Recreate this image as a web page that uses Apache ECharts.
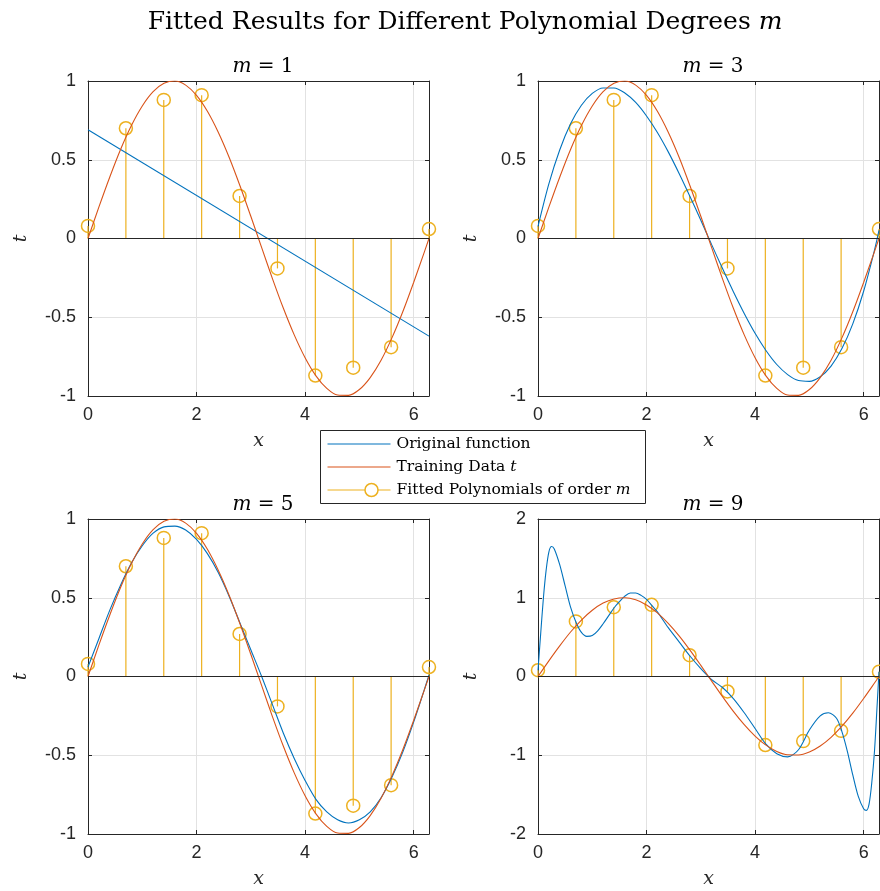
<!DOCTYPE html>
<html>
<head>
<meta charset="utf-8">
<script src="https://cdn.jsdelivr.net/npm/echarts@6/dist/echarts.min.js"></script>
<style>
  html, body { margin: 0; padding: 0; background: #fff; }
  #chart { width: 880px; height: 891px; }
</style>
</head>
<body>
<div id="chart"></div>
<script>
// training points (x, t)
var xData = [0, 0.698, 1.396, 2.094, 2.793, 3.491, 4.189, 4.887, 5.585, 6.283];
var tData = [0.08, 0.70, 0.88, 0.91, 0.27, -0.19, -0.87, -0.82, -0.69, 0.06];

// red curve
var xCurve = [0, 0.2, 0.4, 0.6, 0.8, 1.0, 1.2, 1.4, 1.6, 1.8, 2.0, 2.2, 2.4, 2.6, 2.8, 3.0,
  3.2, 3.4, 3.6, 3.8, 4.0, 4.2, 4.4, 4.6, 4.8, 5.0, 5.2, 5.4, 5.6, 5.8, 6.0, 6.2, 6.283];
var redCurve = [0, 0.199, 0.389, 0.565, 0.717, 0.841, 0.932, 0.985, 1.0, 0.974, 0.909, 0.808,
  0.675, 0.516, 0.335, 0.141, -0.058, -0.256, -0.443, -0.612, -0.757, -0.872, -0.952, -0.994,
  -0.996, -0.959, -0.883, -0.773, -0.631, -0.465, -0.279, -0.083, 0];

// blue curves (fitted polynomials)
var fitM1X = [0, 6.283];
var fitM1 = [0.69, -0.62];
var fitM3 = [0.077, 0.347, 0.562, 0.728, 0.846, 0.921, 0.956, 0.956, 0.924, 0.864, 0.778, 0.673,
  0.55, 0.413, 0.267, 0.116, -0.039, -0.191, -0.338, -0.476, -0.602, -0.711, -0.8, -0.864,
  -0.902, -0.907, -0.878, -0.81, -0.699, -0.542, -0.335, -0.074, 0.051];
var fitM5 = [0.06, 0.24, 0.42, 0.58, 0.72, 0.83, 0.91, 0.95, 0.955, 0.93, 0.87, 0.78,
  0.66, 0.51, 0.34, 0.17, 0.0, -0.18, -0.36, -0.52, -0.66, -0.78, -0.86, -0.91,
  -0.93, -0.91, -0.86, -0.77, -0.64, -0.48, -0.29, -0.08, 0.01];
var fitM9X = [0, 0.05, 0.1, 0.15, 0.2, 0.25, 0.3, 0.4, 0.5, 0.6, 0.7, 0.8, 0.9, 1.0, 1.1, 1.2,
  1.3, 1.4, 1.5, 1.6, 1.7, 1.8, 1.9, 2.0, 2.1, 2.2, 2.4, 2.6, 2.8, 3.0, 3.2, 3.4, 3.6, 3.8,
  4.0, 4.2, 4.4, 4.6, 4.8, 5.0, 5.2, 5.35, 5.5, 5.6, 5.7, 5.8, 5.9, 6.0, 6.05, 6.1, 6.15,
  6.2, 6.25, 6.283];
var fitM9 = [0.08, 0.55, 1.0, 1.35, 1.58, 1.65, 1.62, 1.42, 1.15, 0.88, 0.69, 0.56, 0.51, 0.52,
  0.58, 0.67, 0.77, 0.87, 0.95, 1.02, 1.06, 1.06, 1.03, 0.98, 0.9, 0.82, 0.62, 0.44, 0.26,
  0.1, -0.04, -0.14, -0.28, -0.46, -0.66, -0.86, -0.98, -1.02, -0.93, -0.68, -0.5, -0.46,
  -0.53, -0.7, -0.95, -1.25, -1.52, -1.68, -1.7, -1.62, -1.35, -0.95, -0.35, 0.06];

var degrees = ['1', '3', '5', '9'];
var yRanges = [[-1, 1, 0.5], [-1, 1, 0.5], [-1, 1, 0.5], [-2, 2, 1]];

var BLUE = '#0072BD', RED = '#D95319', YELLOW = '#EDB120', INK = '#262626';
var SERIF = '"DejaVu Serif", "Liberation Serif", serif';
var SANS = '"Liberation Sans", Arial, sans-serif';

function pairs(xs, ys) {
  return xs.map(function (x, i) { return [x, ys[i]]; });
}

var fits = [pairs(fitM1X, fitM1), pairs(xCurve, fitM3), pairs(xCurve, fitM5), pairs(fitM9X, fitM9)];
var boxes = [
  { left: 88, top: 81 }, { left: 538, top: 81 },
  { left: 88, top: 519 }, { left: 538, top: 519 }
];

var chart = echarts.init(document.getElementById('chart'));

function renderStem(params, api) {
  var top = api.coord([api.value(0), api.value(1)]);
  var base = api.coord([api.value(0), 0]);
  return {
    type: 'group',
    children: [
      { type: 'line', shape: { x1: base[0], y1: base[1], x2: top[0], y2: top[1] },
        style: { stroke: YELLOW, lineWidth: 1.2 } },
      { type: 'circle', shape: { cx: top[0], cy: top[1], r: 6.5 },
        style: { fill: 'none', stroke: YELLOW, lineWidth: 1.5 } }
    ]
  };
}

var grids = [], xAxes = [], yAxes = [], series = [], titles = [];

titles.push({
  text: 'Fitted Results for Different Polynomial Degrees {i|m}',
  left: 460, top: 5, textAlign: 'center',
  textStyle: {
    fontFamily: SERIF, fontSize: 25, fontWeight: 'normal', color: '#000',
    rich: { i: { fontFamily: SERIF, fontSize: 25, fontStyle: 'italic', color: '#000' } }
  }
});

boxes.forEach(function (b, i) {
  var yr = yRanges[i];
  grids.push({ left: b.left, top: b.top, width: 341, height: 315, outerBoundsMode: 'none' });

  titles.push({
    text: '{i|m} = ' + degrees[i],
    left: b.left + 170, top: b.top - 29, textAlign: 'center',
    textStyle: {
      fontFamily: SERIF, fontSize: 20, fontWeight: 'normal', color: '#000',
      rich: { i: { fontFamily: SERIF, fontSize: 20, fontStyle: 'italic', color: '#000' } }
    }
  });

  var xBase = {
    gridIndex: i, type: 'value', min: 0, max: 6.283185, interval: 2,
    axisLine: { show: true, onZero: false, lineStyle: { color: INK, width: 1 } },
    axisTick: { show: true, inside: true, length: 4, lineStyle: { color: INK } }
  };
  xAxes[i] = Object.assign({}, xBase, {
    position: 'bottom',
    name: 'x', nameLocation: 'middle', nameGap: 36,
    nameTextStyle: { fontFamily: SERIF, fontStyle: 'italic', fontSize: 19, color: INK },
    axisLabel: { fontFamily: SANS, fontSize: 18, color: INK, margin: 10, showMaxLabel: false },
    splitLine: { show: true, lineStyle: { color: '#e2e2e2', width: 1 } }
  });
  xAxes[i + 4] = Object.assign({}, xBase, {
    position: 'top', axisLabel: { show: false }, splitLine: { show: false }
  });

  var yBase = {
    gridIndex: i, type: 'value', min: yr[0], max: yr[1], interval: yr[2],
    axisLine: { show: true, onZero: false, lineStyle: { color: INK, width: 1 } },
    axisTick: { show: true, inside: true, length: 4, lineStyle: { color: INK } }
  };
  yAxes[i] = Object.assign({}, yBase, {
    position: 'left',
    name: 't', nameLocation: 'middle', nameGap: 57,
    nameTextStyle: { fontFamily: SERIF, fontStyle: 'italic', fontSize: 19, color: INK },
    axisLabel: { fontFamily: SANS, fontSize: 18, color: INK, margin: 12 },
    splitLine: { show: true, lineStyle: { color: '#e2e2e2', width: 1 } }
  });
  yAxes[i + 4] = Object.assign({}, yBase, {
    position: 'right', axisLabel: { show: false }, splitLine: { show: false }
  });

  series.push({
    name: 'Original function', type: 'line', xAxisIndex: i, yAxisIndex: i,
    data: fits[i], showSymbol: false, smooth: i === 0 ? false : 0.3, clip: true,
    lineStyle: { color: BLUE, width: 1.1 }, z: 3
  });
  series.push({
    name: 'Training Data', type: 'line', xAxisIndex: i, yAxisIndex: i,
    data: pairs(xCurve, redCurve), showSymbol: false, smooth: 0.3, clip: true,
    lineStyle: { color: RED, width: 1.1 }, z: 4
  });
  series.push({
    name: 'Fitted Polynomials', type: 'custom', xAxisIndex: i, yAxisIndex: i,
    data: pairs(xData, tData), renderItem: renderStem, clip: false, z: 2,
    markLine: {
      silent: true, symbol: 'none', label: { show: false },
      lineStyle: { color: INK, width: 1, type: 'solid' },
      data: [{ yAxis: 0 }]
    }
  });
});

var legendRows = ['Original function', 'Training Data {i|t}', 'Fitted Polynomials of order {i|m}'];
var legendColors = [BLUE, RED, YELLOW];
var legendChildren = [
  { type: 'rect', shape: { x: 0, y: 0, width: 325, height: 73 },
    style: { fill: '#fff', stroke: INK, lineWidth: 1 } }
];
legendRows.forEach(function (txt, k) {
  var yy = 13.5 + k * 23;
  legendChildren.push({ type: 'line', shape: { x1: 7, y1: yy, x2: 70, y2: yy },
    style: { stroke: legendColors[k], lineWidth: 1.2 } });
  legendChildren.push({ type: 'text', x: 76, y: yy,
    style: {
      text: txt, fill: '#000', font: '15.5px ' + SERIF, verticalAlign: 'middle',
      rich: { i: { fontFamily: SERIF, fontSize: 15.5, fontStyle: 'italic' } }
    } });
});
legendChildren.push({ type: 'circle', shape: { cx: 51, cy: 13.5 + 2 * 23, r: 6.5 },
  style: { fill: '#fff', stroke: YELLOW, lineWidth: 1.5 } });

chart.setOption({
  animation: false,
  backgroundColor: '#fff',
  title: titles,
  grid: grids,
  xAxis: xAxes,
  yAxis: yAxes,
  series: series,
  graphic: [{ type: 'group', left: 320, top: 430, z: 100, children: legendChildren }]
});
</script>
</body>
</html>
